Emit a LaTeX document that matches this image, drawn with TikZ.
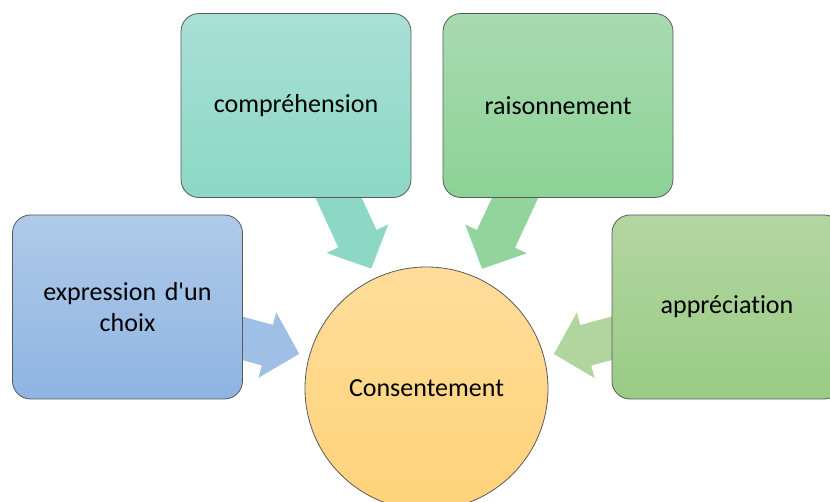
\documentclass[tikz,border=0pt]{standalone}
\usepackage{fontspec}
\setmainfont{Carlito}[Ligatures={NoCommon}]
\usetikzlibrary{calc,backgrounds}

\definecolor{tealtop}{RGB}{168,224,214}
\definecolor{tealbot}{RGB}{140,216,196}
\definecolor{greentop}{RGB}{168,219,176}
\definecolor{greenbot}{RGB}{140,210,150}
\definecolor{bluetop}{RGB}{176,202,232}
\definecolor{bluebot}{RGB}{142,180,227}
\definecolor{olivetop}{RGB}{179,214,162}
\definecolor{olivebot}{RGB}{154,203,132}
\definecolor{suntop}{RGB}{255,221,154}
\definecolor{sunbot}{RGB}{255,210,122}

\begin{document}
\begin{tikzpicture}[x=1pt,y=-1pt,
box/.style={draw=black!65,line width=0.8pt,rounded corners=18pt,
minimum width=230pt,minimum height=184pt,text width=215pt,align=center,
font=\fontsize{26}{31}\selectfont},
hub/.style={draw=black!65,line width=0.8pt,circle,minimum size=243pt,
top color=suntop,bottom color=sunbot,font=\fontsize{26}{31}\selectfont}]

\clip (0,0) rectangle (830,502);

\node[box,top color=tealtop,bottom color=tealbot] (comp) at (296,105.5) {compréhension};
\node[box,top color=greentop,bottom color=greenbot] (rais) at (558,105.5) {raisonnement};
\node[box,top color=bluetop,bottom color=bluebot] (expr) at (127.5,307) {expression d\textquotesingle un\\choix};
\node[box,top color=olivetop,bottom color=olivebot] (appr) at (727,307) {appréciation};
\node[hub] (cons) at (426.5,388.5) {Consentement};

\begin{scope}[on background layer]
\foreach \a/\c in {comp/tealbot, rais/greenbot!95!white, expr/bluebot!85!white, appr/olivetop!90!olivebot} {
\coordinate (\a-tip) at ($(cons.center)!132pt!(\a.center)$);
\coordinate (\a-hb) at ($(cons.center)!165pt!(\a.center)$);
\fill[\c] ($(\a.center)!21pt!90:(cons.center)$) -- ($(\a-hb)!21pt!90:(cons.center)$)
 -- ($(\a-hb)!34pt!90:(cons.center)$) -- (\a-tip)
 -- ($(\a-hb)!34pt!-90:(cons.center)$) -- ($(\a-hb)!21pt!-90:(cons.center)$)
 -- ($(\a.center)!21pt!-90:(cons.center)$) -- cycle;
};
\end{scope}

\end{tikzpicture}
\end{document}
